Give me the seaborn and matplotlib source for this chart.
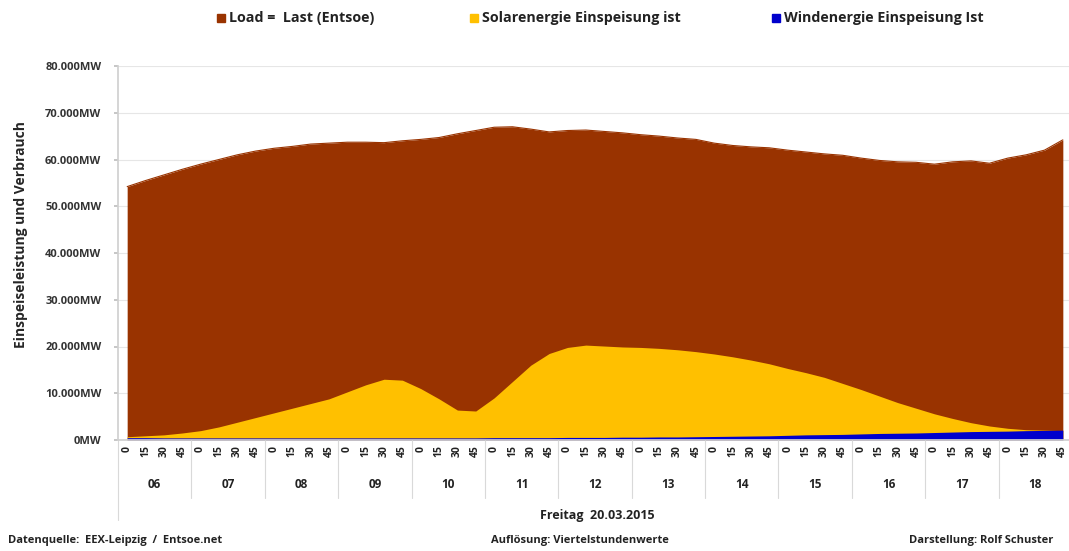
import numpy as np
import matplotlib.pyplot as plt
import matplotlib.transforms as mtransforms
import seaborn as sns

# Freitag 20.03.2015, quarter-hour values 06:00 - 18:45 (MW)
hours = ["06", "07", "08", "09", "10", "11", "12", "13", "14", "15", "16", "17", "18"]
minutes = ["0", "15", "30", "45"]

load = [
    54200, 55500, 56700, 57900,
    59000, 60000, 61000, 61800,
    62400, 62800, 63300, 63500,
    63700, 63700, 63600, 64000,
    64300, 64700, 65500, 66200,
    66900, 67000, 66500, 65900,
    66200, 66300, 66000, 65700,
    65300, 65000, 64600, 64300,
    63500, 63000, 62700, 62500,
    62000, 61600, 61200, 60900,
    60300, 59800, 59500, 59400,
    59000, 59500, 59700, 59200,
    60300, 61000, 62000, 64200,
]
solar = [
    700, 900, 1100, 1500,
    2000, 2800, 3800, 4800,
    5800, 6800, 7800, 8800,
    10300, 11800, 13000, 12800,
    11000, 8800, 6400, 6200,
    9000, 12500, 16000, 18500,
    19800, 20300, 20100, 19900,
    19800, 19600, 19300, 18900,
    18400, 17800, 17100, 16300,
    15300, 14400, 13400, 12100,
    10800, 9400, 8000, 6800,
    5600, 4600, 3700, 3000,
    2500, 2200, 2100, 2000,
]
wind = [
    500, 500, 450, 450,
    450, 450, 450, 450,
    450, 450, 450, 450,
    450, 450, 450, 450,
    450, 450, 450, 450,
    500, 500, 500, 500,
    550, 550, 550, 600,
    600, 650, 650, 700,
    750, 800, 850, 900,
    1000, 1100, 1150, 1200,
    1300, 1400, 1450, 1500,
    1600, 1700, 1800, 1850,
    1900, 2000, 2050, 2100,
]

C_LOAD = "#993300"
C_SOLAR = "#FFC000"
C_WIND = "#0000CC"

sns.set_theme(style="whitegrid")
plt.rcParams["font.family"] = ["Open Sans", "DejaVu Sans"]

W, H = 1069, 551
fig = plt.figure(figsize=(W / 100, H / 100), dpi=100)
# plot area: x from 118px to ~1072px
ax = fig.add_axes([118 / W, 1 - 440 / H, (1072 - 118) / W, (440 - 66) / H])

x = np.arange(len(load))
ax.fill_between(x, 0, load, color=C_LOAD, lw=0)
ax.fill_between(x, 0, solar, color=C_SOLAR, lw=0)
ax.fill_between(x, 0, wind, color=C_WIND, lw=0)
sns.lineplot(x=x, y=load, color=C_LOAD, lw=0.8, ax=ax)

ax.set_xlim(-0.5, len(load) - 0.5)
ax.set_ylim(0, 80000)
ax.set_yticks(np.arange(0, 80001, 10000))
ax.set_yticklabels([f"{v // 1000}.000MW" if v else "0MW" for v in range(0, 80001, 10000)],
                   fontsize=8, fontweight="bold", color="#333333")
ax.tick_params(axis="y", length=3, color="#bfbfbf", pad=9, left=True)

ax.set_xticks(x)
ax.set_xticklabels(minutes * len(hours), rotation=90, fontsize=7.5,
                   fontweight="bold", color="#222222")
ax.tick_params(axis="x", length=0, pad=4)

ax.grid(axis="y", color="#e6e6e6", lw=0.8)
ax.grid(axis="x", visible=False)
ax.set_facecolor("white")
for s in ["top", "right"]:
    ax.spines[s].set_visible(False)
ax.spines["left"].set_color("#d0d0d0")
ax.spines["bottom"].set_color("#d0d0d0")

# hour labels and group separators below the axis
trans = mtransforms.blended_transform_factory(ax.transData, ax.transAxes)
for h, lab in enumerate(hours):
    ax.text(4 * h + 1.5, -0.12, lab, transform=trans, ha="center", va="center",
            fontsize=8.5, fontweight="bold", color="#222222")
    if h > 0:
        ax.plot([4 * h - 0.5] * 2, [0, -0.155], transform=trans, color="#d9d9d9",
                lw=0.8, clip_on=False)
ax.plot([-0.5, -0.5], [0, -0.215], transform=trans, color="#d9d9d9", lw=0.8, clip_on=False)

ax.set_ylabel("Einspeiseleistung und Verbrauch", fontsize=10, fontweight="bold")
ax.yaxis.set_label_coords(-0.094, 0.55)

fig.text(597 / W, 1 - 515 / H, "Freitag  20.03.2015", ha="center", va="center",
         fontsize=9, fontweight="bold", color="#222222")
fig.text(8 / W, 1 - 541 / H, "Datenquelle:  EEX-Leipzig  /  Entsoe.net", ha="left",
         va="center", fontsize=8, fontweight="bold", color="#222222")
fig.text(580 / W, 1 - 541 / H, "Auflösung: Viertelstundenwerte", ha="center",
         va="center", fontsize=8, fontweight="bold", color="#222222")
fig.text(1053 / W, 1 - 541 / H, "Darstellung: Rolf Schuster", ha="right",
         va="center", fontsize=8, fontweight="bold", color="#222222")

# legend row at the top
leg = [("Load =  Last (Entsoe)", C_LOAD, 217),
       ("Solarenergie Einspeisung ist", C_SOLAR, 470),
       ("Windenergie Einspeisung Ist", C_WIND, 772)]
for label, col, px in leg:
    fig.patches.append(plt.Rectangle((px / W, 1 - 22 / H), 8 / W, 8 / H,
                                     transform=fig.transFigure, color=col))
    fig.text((px + 12) / W, 1 - 18 / H, label, ha="left", va="center",
             fontsize=10.3, fontweight="bold", color="#222222")

fig.savefig("out.png", dpi=100, facecolor="white")
